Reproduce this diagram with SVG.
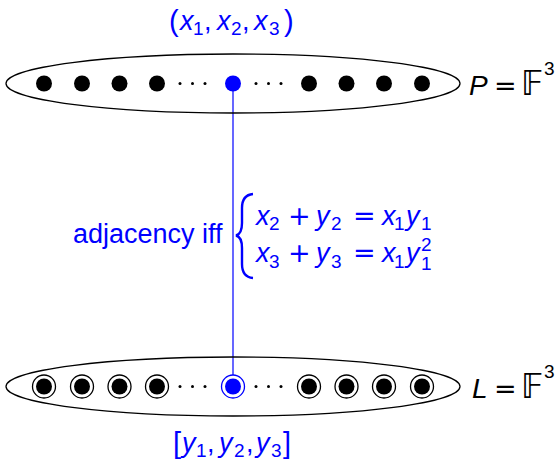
<svg xmlns="http://www.w3.org/2000/svg" width="559" height="462" viewBox="0 0 559 462">
<style>
.set{fill:none;stroke:#000;stroke-width:1.3}
.pt{fill:#000}
.ring{fill:#fff;stroke:#000;stroke-width:1.3}
.dd{fill:#000}
.m{font-family:"Liberation Sans","DejaVu Sans",sans-serif;font-size:27px}
.i{font-style:italic}
.s{font-size:19px;font-style:normal}
.op{font-family:"DejaVu Sans",sans-serif;font-size:27px}
.b{fill:#0000ff}
.k{fill:#000}
.ds{font-family:"DejaVu Sans","Noto Sans",sans-serif;font-style:normal;font-size:33px}
</style>
<defs>
<g id="dot"><circle r="8" class="pt"/></g>
<g id="ldot"><circle r="11.5" class="ring"/><circle r="8" class="pt"/></g>
<g id="ell"><circle cx="-12.5" r="1.5" class="dd"/><circle cx="0" r="1.5" class="dd"/><circle cx="12.5" r="1.5" class="dd"/></g>
</defs>
<g id="connectors">
<line x1="233" y1="84" x2="233" y2="387" stroke="#0000ff" stroke-width="1.2"/>
</g>
<g id="P-set">
<ellipse cx="233" cy="83.5" rx="227" ry="29.5" class="set"/>
<use href="#dot" x="44" y="83.5"/><use href="#dot" x="82" y="83.5"/><use href="#dot" x="119.5" y="83.5"/><use href="#dot" x="157" y="83.5"/>
<use href="#ell" x="192.5" y="83.5"/><use href="#ell" x="268.5" y="83.5"/>
<use href="#dot" x="309" y="83.5"/><use href="#dot" x="346.5" y="83.5"/><use href="#dot" x="384" y="83.5"/><use href="#dot" x="422" y="83.5"/>
<text class="m k" y="95"><tspan x="469" class="i" font-size="28">P</tspan><tspan x="494" class="op">=</tspan><tspan x="521" class="ds">𝔽</tspan><tspan x="544" y="75" class="s" font-size="20">3</tspan></text>
</g>
<g id="point-x">
<circle cx="233" cy="83.5" r="8" fill="#0000ff"/>
<text class="m b"><tspan x="169" y="31" font-size="29">(</tspan><tspan x="180" y="30" class="i">x</tspan><tspan x="193" y="35" class="s">1</tspan><tspan x="204" y="30">,</tspan><tspan x="217" y="30" class="i">x</tspan><tspan x="231" y="35" class="s">2</tspan><tspan x="242" y="30">,</tspan><tspan x="254" y="30" class="i">x</tspan><tspan x="269" y="35" class="s">3</tspan><tspan x="284" y="31" font-size="29">)</tspan></text>
</g>
<g id="L-set">
<ellipse cx="233" cy="386.5" rx="227" ry="29.5" class="set"/>
<use href="#ldot" x="44" y="386.5"/><use href="#ldot" x="82" y="386.5"/><use href="#ldot" x="119.5" y="386.5"/><use href="#ldot" x="157" y="386.5"/>
<use href="#ell" x="192.5" y="386.5"/><use href="#ell" x="268.5" y="386.5"/>
<use href="#ldot" x="309" y="386.5"/><use href="#ldot" x="346.5" y="386.5"/><use href="#ldot" x="384" y="386.5"/><use href="#ldot" x="422" y="386.5"/>
<text class="m k" y="398"><tspan x="472" class="i" font-size="28">L</tspan><tspan x="494" class="op">=</tspan><tspan x="521" class="ds">𝔽</tspan><tspan x="544" y="378" class="s" font-size="20">3</tspan></text>
</g>
<g id="point-y">
<circle cx="233" cy="386.5" r="11.5" fill="#fff" stroke="#0000ff" stroke-width="1.3"/>
<circle cx="233" cy="386.5" r="8" fill="#0000ff"/>
<text class="m b"><tspan x="173" y="453" font-size="29">[</tspan><tspan x="182" y="452" class="i">y</tspan><tspan x="196" y="457" class="s">1</tspan><tspan x="207" y="452">,</tspan><tspan x="219" y="452" class="i">y</tspan><tspan x="234" y="457" class="s">2</tspan><tspan x="246" y="452">,</tspan><tspan x="256" y="452" class="i">y</tspan><tspan x="271" y="457" class="s">3</tspan><tspan x="283" y="453" font-size="29">]</tspan></text>
</g>
<g id="adjacency-label">
<text class="m b" x="73" y="243">adjacency iff</text>
<path d="M253,194 Q242,195 242,208 L242,223 Q242,234 236,235.5 Q242,237 242,248 L242,264 Q242,277 253,278" fill="none" stroke="#0000ff" stroke-width="2.4"/>
<text class="m b"><tspan x="256" y="225" class="i">x</tspan><tspan x="269" y="230" class="s">2</tspan><tspan x="288" y="225" class="op">+</tspan><tspan x="316" y="225" class="i">y</tspan><tspan x="331" y="230" class="s">2</tspan><tspan x="353" y="225" class="op">=</tspan><tspan x="382" y="225" class="i">x</tspan><tspan x="394" y="230" class="s">1</tspan><tspan x="406" y="225" class="i">y</tspan><tspan x="421" y="230" class="s">1</tspan></text>
<text class="m b"><tspan x="256" y="262" class="i">x</tspan><tspan x="269" y="268" class="s">3</tspan><tspan x="288" y="262" class="op">+</tspan><tspan x="316" y="262" class="i">y</tspan><tspan x="331" y="268" class="s">3</tspan><tspan x="353" y="262" class="op">=</tspan><tspan x="382" y="262" class="i">x</tspan><tspan x="394" y="268" class="s">1</tspan><tspan x="406" y="262" class="i">y</tspan><tspan x="421" y="270" class="s">1</tspan><tspan x="421" y="251" class="s" font-size="18">2</tspan></text>
</g>
</svg>
